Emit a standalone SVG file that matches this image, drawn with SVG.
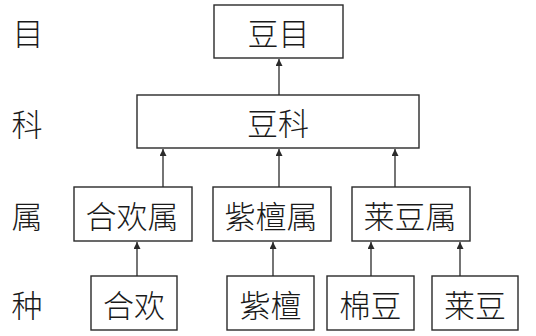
<svg xmlns="http://www.w3.org/2000/svg" width="536" height="336" viewBox="0 0 536 336">
<defs>
<style>
.box{fill:#fff;stroke:#2a2a2a;stroke-width:1.4}
.t{font-family:"Noto Sans CJK SC","Noto Sans CJK JP",sans-serif;font-size:31px;font-weight:300;fill:#1a1a1a;text-anchor:middle;dominant-baseline:central}
.c{stroke:#2a2a2a;stroke-width:1.3;fill:none;marker-end:url(#ah)}
</style>
<marker id="ah" viewBox="0 0 10 10" refX="10" refY="5" markerWidth="7" markerHeight="7" markerUnits="userSpaceOnUse" orient="auto">
<path d="M0,0 L10,5 L0,10 z" fill="#2a2a2a"/>
</marker>
</defs>
<rect width="536" height="336" fill="#fff"/>
<g id="rank-labels">
<text class="t" x="28" y="31">目</text>
<text class="t" x="27" y="122">科</text>
<text class="t" x="27" y="214">属</text>
<text class="t" x="27" y="303">种</text>
</g>
<g id="connectors">
<line class="c" x1="279" y1="95" x2="279" y2="59"/>
<line class="c" x1="163" y1="187" x2="163" y2="149"/>
<line class="c" x1="279" y1="187" x2="279" y2="149"/>
<line class="c" x1="395" y1="187" x2="395" y2="149"/>
<line class="c" x1="137" y1="276" x2="137" y2="242"/>
<line class="c" x1="273" y1="276" x2="273" y2="242"/>
<line class="c" x1="371" y1="276" x2="371" y2="242"/>
<line class="c" x1="460" y1="276" x2="460" y2="242"/>
</g>
<g id="douMu"><rect class="box" x="214" y="5" width="129" height="53"/><text class="t" x="278.5" y="31.5">豆目</text></g>
<g id="douKe"><rect class="box" x="137" y="95" width="282" height="53"/><text class="t" x="278" y="121.5">豆科</text></g>
<g id="heHuanShu"><rect class="box" x="74" y="187" width="118" height="54"/><text class="t" x="132" y="214">合欢属</text></g>
<g id="ziTanShu"><rect class="box" x="213" y="187" width="118" height="54"/><text class="t" x="271" y="214">紫檀属</text></g>
<g id="laiDouShu"><rect class="box" x="352" y="187" width="118" height="54"/><text class="t" x="410" y="214">莱豆属</text></g>
<g id="heHuan"><rect class="box" x="91" y="276" width="86" height="54"/><text class="t" x="134" y="303">合欢</text></g>
<g id="ziTan"><rect class="box" x="227" y="276" width="87" height="54"/><text class="t" x="270.5" y="303">紫檀</text></g>
<g id="mianDou"><rect class="box" x="327" y="276" width="87" height="54"/><text class="t" x="370.5" y="303">棉豆</text></g>
<g id="laiDou"><rect class="box" x="432" y="276" width="86" height="54"/><text class="t" x="475" y="303">莱豆</text></g>
</svg>
